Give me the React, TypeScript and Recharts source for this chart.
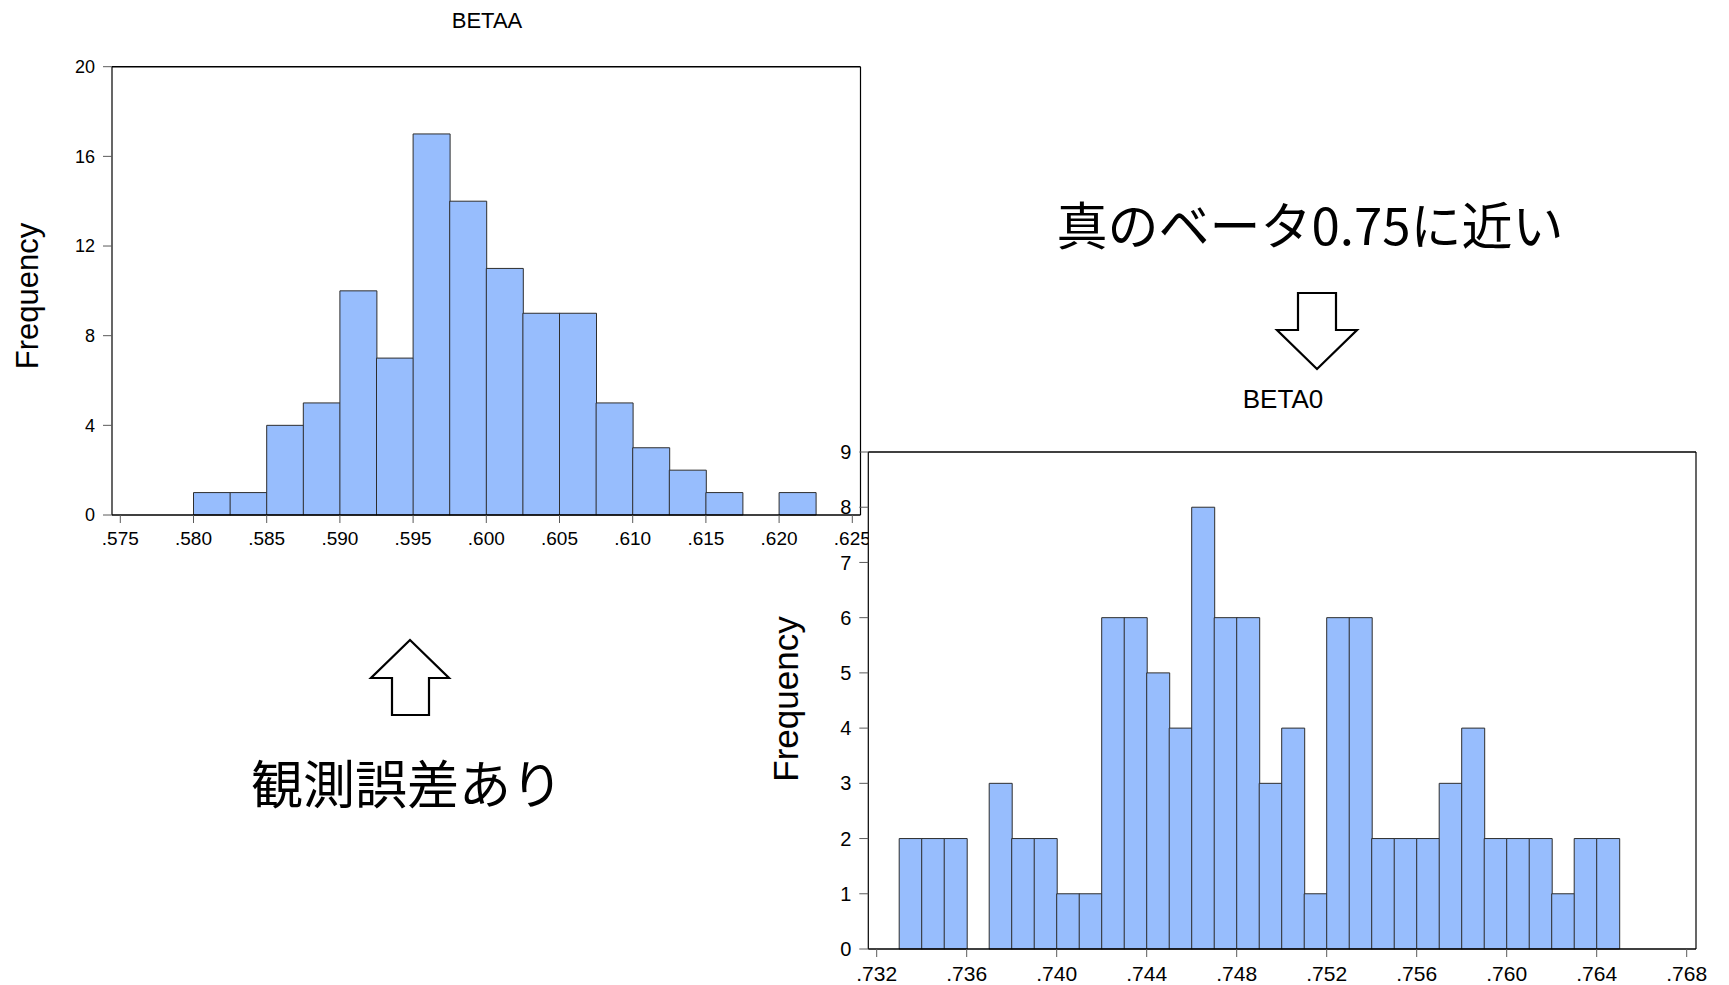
import { ComposedChart, Bar, Line, XAxis, YAxis, CartesianGrid } from "recharts";

// BETAA histogram (bin starts, width .0025)
const betaaBins = [
  "0.5750", "0.5775", "0.5800", "0.5825", "0.5850", "0.5875", "0.5900", "0.5925", "0.5950", "0.5975",
  "0.6000", "0.6025", "0.6050", "0.6075", "0.6100", "0.6125", "0.6150", "0.6175", "0.6200", "0.6225",
];
const betaaCounts = [0, 0, 1, 1, 4, 5, 10, 7, 17, 14, 11, 9, 9, 5, 3, 2, 1, 0, 1, 0];
const betaaXTicks = [0.575, 0.58, 0.585, 0.59, 0.595, 0.6, 0.605, 0.61, 0.615, 0.62, 0.625];
const betaaYTicks = [0, 4, 8, 12, 16, 20];

// BETA0 histogram (bin starts, width .001)
const beta0Bins = [
  "0.732", "0.733", "0.734", "0.735", "0.736", "0.737", "0.738", "0.739", "0.740", "0.741", "0.742", "0.743",
  "0.744", "0.745", "0.746", "0.747", "0.748", "0.749", "0.750", "0.751", "0.752", "0.753", "0.754", "0.755",
  "0.756", "0.757", "0.758", "0.759", "0.760", "0.761", "0.762", "0.763", "0.764", "0.765", "0.766", "0.767",
];
const beta0Counts = [
  0, 2, 2, 2, 0, 3, 2, 2, 1, 1, 6, 6,
  5, 4, 8, 6, 6, 3, 4, 1, 6, 6, 2, 2,
  2, 3, 4, 2, 2, 2, 1, 2, 2, 0, 0, 0,
];
const beta0XTicks = [0.732, 0.736, 0.74, 0.744, 0.748, 0.752, 0.756, 0.76, 0.764, 0.768];
const beta0YTicks = [0, 1, 2, 3, 4, 5, 6, 7, 8, 9];

const betaaData = betaaBins.map((bin, i) => ({ bin, start: Number(bin), count: betaaCounts[i] }));
const beta0Data = beta0Bins.map((bin, i) => ({ bin, start: Number(bin), count: beta0Counts[i] }));

const FILL = "#97bdfd";
const EDGE = "#2e2e2e";
const TICK = "#5a5a5a";
const fmt = (v: number) => v.toFixed(3).replace(/^0/, "");

function FreqLabel({ bx, by, size }: { bx: number; by: number; size: number }) {
  return (
    <text x={bx} y={by} transform={`rotate(-90 ${bx} ${by})`} textAnchor="middle" fontSize={size} fill="#000">
      Frequency
    </text>
  );
}

function Histogram({
  data, xTicks, yTicks, xDomain, yMax, width, height, margin, yAxisWidth, xAxisHeight,
  pad, tickFont, yTickFont, freq,
}: any) {
  return (
    <ComposedChart width={width} height={height} data={data} margin={margin} barCategoryGap={0} barGap={0}>
      <CartesianGrid xAxisId="bins" yAxisId="left" horizontal={false} vertical={false} fill="#fff" />
      <XAxis
        xAxisId="bins"
        dataKey="bin"
        orientation="top"
        height={1}
        tick={false}
        tickLine={false}
        axisLine={{ stroke: "#000", strokeWidth: 1.4 }}
        padding={pad}
      />
      <XAxis
        xAxisId="val"
        dataKey="start"
        type="number"
        domain={xDomain}
        allowDataOverflow
        ticks={xTicks}
        interval={0}
        height={xAxisHeight}
        padding={pad}
        tickSize={8}
        tickMargin={9}
        tickFormatter={fmt}
        tick={{ fill: "#000", fontSize: tickFont }}
        tickLine={{ stroke: TICK }}
        axisLine={{ stroke: "#000", strokeWidth: 1.7 }}
      />
      <YAxis
        yAxisId="left"
        domain={[0, yMax]}
        ticks={yTicks}
        interval={0}
        width={yAxisWidth}
        tickSize={9}
        tickMargin={8}
        tick={{ fill: "#000", fontSize: yTickFont }}
        tickLine={{ stroke: TICK }}
        axisLine={{ stroke: "#000", strokeWidth: 1.2 }}
        label={<FreqLabel bx={freq.x} by={freq.y} size={freq.size} />}
      />
      <YAxis
        yAxisId="right"
        orientation="right"
        domain={[0, yMax]}
        width={1}
        tick={false}
        tickLine={false}
        axisLine={{ stroke: "#000", strokeWidth: 1.2 }}
      />
      <Bar xAxisId="bins" yAxisId="left" dataKey="count" fill={FILL} stroke={EDGE} strokeWidth={1} isAnimationActive={false} />
      {/* invisible series that anchors the numeric value axis */}
      <Line
        xAxisId="val"
        yAxisId="left"
        dataKey="count"
        stroke="none"
        dot={false}
        activeDot={false}
        legendType="none"
        isAnimationActive={false}
      />
    </ComposedChart>
  );
}

export default function App() {
  return (
    <div
      style={{
        position: "absolute", left: 0, top: 0, width: 1729, height: 985, overflow: "hidden",
        background: "#fff", fontFamily: "'Liberation Sans', Arial, sans-serif",
      }}
    >
      <div style={{ position: "absolute", left: 0, top: 0 }}>
        <Histogram
          data={betaaData}
          xTicks={betaaXTicks}
          yTicks={betaaYTicks}
          xDomain={[0.575, 0.625]}
          yMax={20}
          width={880}
          height={560}
          margin={{ top: 65.7, right: 18.5, bottom: 5, left: 0 }}
          yAxisWidth={112}
          xAxisHeight={40}
          pad={{ left: 8.3, right: 8.2 }}
          tickFont={19}
          yTickFont={18}
          freq={{ x: 38, y: 296, size: 31 }}
        />
      </div>

      <svg width={1729} height={985} style={{ position: "absolute", left: 0, top: 0, pointerEvents: "none" }}>
        <text x={487} y={28} textAnchor="middle" fontSize={22} fill="#000">BETAA</text>
        <text x={1283} y={408} textAnchor="middle" fontSize={26} fill="#000">BETA0</text>
        <text x={1310} y={245} textAnchor="middle" fontSize={51} fill="#000" fontFamily="'Noto Sans CJK JP', sans-serif">
          真のベータ0.75に近い
        </text>
        <text x={407} y={804} textAnchor="middle" fontSize={52} fill="#000" fontFamily="'Noto Sans CJK JP', sans-serif">
          観測誤差あり
        </text>
        <polygon
          points="1298,293 1336,293 1336,330 1357,330 1317,369 1277,330 1298,330"
          fill="#fff" stroke="#000" strokeWidth={2.2} strokeLinejoin="miter"
        />
        <polygon
          points="410,640 449,678 429,678 429,715 392,715 392,678 371,678"
          fill="#fff" stroke="#000" strokeWidth={2.2} strokeLinejoin="miter"
        />
      </svg>

      <div style={{ position: "absolute", left: 740, top: 370 }}>
        <Histogram
          data={beta0Data}
          xTicks={beta0XTicks}
          yTicks={beta0YTicks}
          xDomain={[0.732, 0.768]}
          yMax={9}
          width={989}
          height={615}
          margin={{ top: 81, right: 32, bottom: 0, left: 0 }}
          yAxisWidth={128.3}
          xAxisHeight={36}
          pad={{ left: 8.4, right: 9.3 }}
          tickFont={21}
          yTickFont={20}
          freq={{ x: 58, y: 329, size: 35 }}
        />
      </div>
    </div>
  );
}
